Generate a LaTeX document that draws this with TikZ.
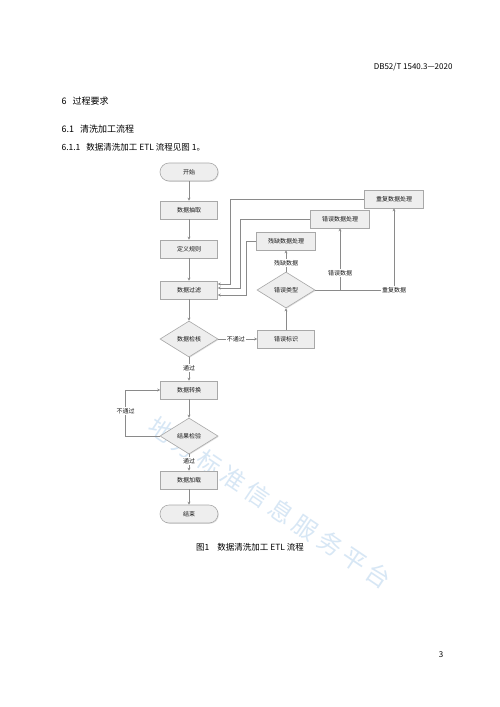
\documentclass[tikz,border=0pt]{standalone}
\usepackage{fontspec}
\setmainfont{Noto Sans CJK SC}
\newfontfamily\cjk{Noto Sans CJK SC}
\usetikzlibrary{shapes.geometric,shadows,arrows.meta}
\definecolor{boxfill}{HTML}{EEEEEE}
\definecolor{boxdraw}{HTML}{A8A8A8}
\definecolor{linec}{HTML}{8A8A8A}
\definecolor{wm}{HTML}{9DC3E6}
\tikzset{
  base/.style={draw=boxdraw, fill=boxfill, line width=0.6pt, font=\fontsize{6}{7}\selectfont\cjk, text=black!90,
    drop shadow={shadow xshift=0.8pt, shadow yshift=-0.8pt, opacity=0.25}},
  procbox/.style={base, rectangle, minimum width=57pt, minimum height=18pt, inner sep=0pt},
  termbox/.style={base, rectangle, rounded corners=9pt, minimum width=58pt, minimum height=18pt, inner sep=0pt},
  decbox/.style={base, diamond, aspect=1.65, minimum width=58pt, minimum height=36pt, inner sep=0pt},
  conn/.style={draw=linec, line width=0.6pt},
  arr/.style={conn, -{Stealth[length=3pt,width=3pt]}},
  lbl/.style={fill=white, inner sep=1pt, font=\fontsize{6}{7}\selectfont\cjk, text=black!90},
}
\begin{document}
\begin{tikzpicture}[x=1pt,y=-1pt]
\useasboundingbox (0,0) rectangle (500,707);
\fill[white] (0,0) rectangle (500,707);

% watermark (drawn first, behind everything)
\node[rotate=-34, text=wm, opacity=0.4, font=\fontsize{24}{26}\selectfont\cjk] (wmk) at (270,503) {地\hspace{5pt}方\hspace{5pt}标\hspace{5pt}准\hspace{5pt}信\hspace{5pt}息\hspace{5pt}服\hspace{5pt}务\hspace{5pt}平\hspace{5pt}台};

% page texts
\node[anchor=east, font=\fontsize{8}{9}\selectfont] (hdr) at (456,67) {DB52/T 1540.3—2020};
\node[anchor=west, font=\fontsize{9}{10}\selectfont] (sec6) at (58,101) {6\hspace{6pt}过程要求};
\node[anchor=west, font=\fontsize{9}{10}\selectfont] (sec61) at (58,129) {6.1\hspace{6pt}清洗加工流程};
\node[anchor=west, font=\fontsize{8.5}{10}\selectfont] (sec611) at (58,147) {6.1.1\hspace{6pt}数据清洗加工 ETL 流程见图 1。};
\node[font=\fontsize{8.5}{10}\selectfont] (cap) at (250,547) {图1\hspace{8pt}数据清洗加工 ETL 流程};
\node[font=\fontsize{8}{9}\selectfont] (pg) at (441,655) {3};

% main column
\node[termbox] (start) at (189,172) {开始};
\node[procbox] (extr) at (189,210) {数据抽取};
\node[procbox] (rule) at (189,249) {定义规则};
\node[procbox] (filt) at (189,290) {数据过滤};
\node[decbox] (chk) at (189,339) {数据检核};
\node[procbox] (trans) at (189,390) {数据转换};
\node[decbox] (res) at (189,436) {结果检验};
\node[procbox] (load) at (189,480) {数据加载};
\node[termbox] (fin) at (189,514) {结束};

% right part
\node[procbox] (mark) at (286,339) {错误标识};
\node[decbox] (type) at (286,290) {错误类型};
\node[procbox, minimum width=59pt] (mis) at (286,241) {残缺数据处理};
\node[procbox, minimum width=59pt] (err) at (340,219) {错误数据处理};
\node[procbox, minimum width=59pt] (rep) at (394,199) {重复数据处理};

% main arrows
\draw[arr] (start) -- (extr);
\draw[arr] (extr) -- (rule);
\draw[arr] (rule) -- (filt);
\draw[arr] (filt) -- (chk);
\draw[arr] (chk) -- node[lbl, pos=0.45] (pass1) {通过} (trans);
\draw[arr] (trans) -- (res);
\draw[arr] (res) -- node[lbl, pos=0.4] (pass2) {通过} (load);
\draw[arr] (load) -- (fin);

\draw[arr] (chk.east) -- node[lbl, pos=0.45] (fail1) {不通过} (mark.west);
\draw[arr] (mark) -- (type);
\draw[arr] (res.west) -- ++(-34,0) coordinate (lp) |- node[lbl, pos=0.27] (fail2) {不通过} (trans.west);

% error type branches
\draw[arr] (type.north) -- node[lbl, pos=0.4] (l1) {残缺数据} (mis.south);
\coordinate (tm) at (340,290);
\coordinate (tr) at (394,290);
\draw[conn] (type.east) -- (tr);
\draw[arr] (tm) -- node[lbl, pos=0.28] (l2) {错误数据} (err.south);
\draw[arr] (tr) -- (rep.south);
\node[lbl] (l3) at (tr) {重复数据};

% feedback to filter
\draw[arr] (rep.west) -- ++(-134,0) |- ([yshift=6pt]filt.east);
\draw[arr] (err.west) -- ++(-70,0) |- ([yshift=2pt]filt.east);
\draw[arr] (mis.west) -- ++(-10,0) |- ([yshift=-5pt]filt.east);
\end{tikzpicture}
\end{document}
